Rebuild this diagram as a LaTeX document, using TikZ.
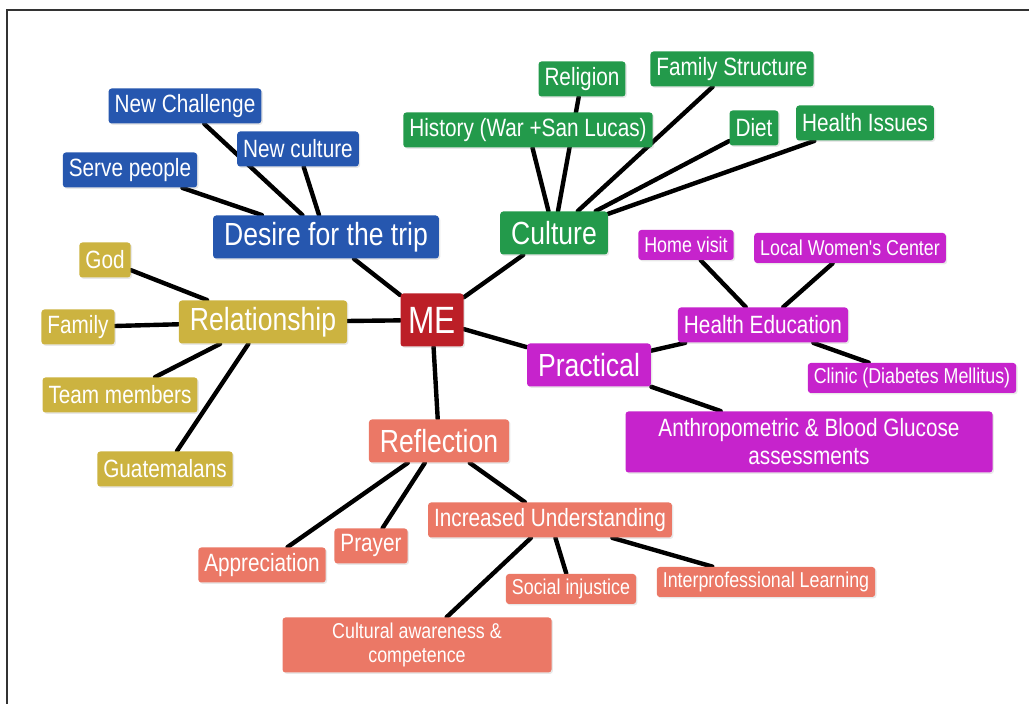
\documentclass[tikz,border=0pt]{standalone}
\usepackage{fontspec}
\newfontfamily\mapfont[FakeStretch=0.83]{Liberation Sans}
\usepackage{tikz}
\usetikzlibrary{backgrounds,shadows}
\usepackage{xcolor}
\definecolor{cblue}{HTML}{2657AF}
\definecolor{cgreen}{HTML}{239A4B}
\definecolor{cgold}{HTML}{CCB340}
\definecolor{cred}{HTML}{BC1F27}
\definecolor{cpurple}{HTML}{C623CC}
\definecolor{csalmon}{HTML}{EB7866}
\tikzset{
  box/.style={rectangle,rounded corners=1.5pt,text=white,inner sep=0pt,inner xsep=3pt,align=center,
    drop shadow={opacity=0.18,shadow xshift=0.7pt,shadow yshift=-0.7pt}},
  leafbox/.style={box,minimum height=17.5pt,font=\mapfont\fontsize{12.5}{14}\selectfont},
  subbox/.style={box,minimum height=15pt,font=\mapfont\fontsize{10.75}{12}\selectfont},
  mainbox/.style={box,minimum height=21.5pt,inner xsep=5.5pt,font=\mapfont\fontsize{16}{18}\selectfont},
  mebox/.style={box,minimum height=26.5pt,minimum width=31.5pt,font=\mapfont\fontsize{19}{21}\selectfont},
  link/.style={line width=2.2pt,black,line cap=round},
}
\begin{document}
\begin{tikzpicture}[x=0.5pt,y=-0.5pt]
  \useasboundingbox (0,0) rectangle (1029,704);
  \node[mebox,fill=cred] (me) at (432,320) {ME};
  \node[mainbox,fill=cblue] (desire) at (326,237) {Desire for the trip};
  \node[leafbox,fill=cblue] (newchal) at (185,106) {New Challenge};
  \node[leafbox,fill=cblue] (newcult) at (298,149) {New culture};
  \node[leafbox,fill=cblue] (serve) at (130,170) {Serve people};
  \node[mainbox,fill=cgold] (rel) at (263,322) {Relationship};
  \node[leafbox,fill=cgold] (god) at (105,260) {God};
  \node[leafbox,fill=cgold] (family) at (78,327) {Family};
  \node[leafbox,fill=cgold] (team) at (120,395) {Team members};
  \node[leafbox,fill=cgold] (guat) at (165,469) {Guatemalans};
  \node[mainbox,fill=cgreen] (culture) at (554,233) {Culture};
  \node[leafbox,fill=cgreen] (religion) at (582,79) {Religion};
  \node[leafbox,fill=cgreen] (famstr) at (732,69) {Family Structure};
  \node[leafbox,fill=cgreen] (history) at (528,130) {History (War +San Lucas)};
  \node[leafbox,fill=cgreen] (diet) at (754,128) {Diet};
  \node[leafbox,fill=cgreen] (healthiss) at (865,123) {Health Issues};
  \node[mainbox,fill=cpurple] (practical) at (589,365) {Practical};
  \node[leafbox,fill=cpurple] (healthed) at (763,325) {Health Education};
  \node[subbox,fill=cpurple] (homevisit) at (686,245) {Home visit};
  \node[subbox,fill=cpurple] (womenctr) at (850,248) {Local Women's Center};
  \node[subbox,fill=cpurple] (clinic) at (912,378) {Clinic (Diabetes Mellitus)};
  \node[leafbox,fill=cpurple,minimum width=183.5pt,minimum height=30.5pt] (anthro) at (809,442)
    {Anthropometric \& Blood Glucose\\assessments};
  \node[mainbox,fill=csalmon] (reflect) at (439,441) {Reflection};
  \node[leafbox,fill=csalmon] (incund) at (550,520) {Increased Understanding};
  \node[leafbox,fill=csalmon] (apprec) at (262,565) {Appreciation};
  \node[leafbox,fill=csalmon] (prayer) at (371,546) {Prayer};
  \node[subbox,fill=csalmon] (social) at (571,589) {Social injustice};
  \node[subbox,fill=csalmon] (interprof) at (766,582) {Interprofessional Learning};
  \node[subbox,fill=csalmon,minimum width=134.5pt,minimum height=27.5pt] (cultaware) at (417,645)
    {Cultural awareness \&\\competence};
  \begin{scope}[on background layer]
    \fill[white] (0,0) rectangle (1029,704);
    \draw[line width=1pt,black!80] (7,704) -- (7,10) -- (1029,10);
    \draw[link] (me) -- (desire) (me) -- (rel) (me) -- (culture) (me) -- (practical) (me) -- (reflect);
    \draw[link] (desire) -- (newchal) (desire) -- (newcult) (desire) -- (serve);
    \draw[link] (rel) -- (god) (rel) -- (family) (rel) -- (team) (rel) -- (guat);
    \draw[link] (culture) -- (religion) (culture) -- (famstr) (culture) -- (history)
      (culture) -- (diet) (culture) -- (healthiss);
    \draw[link] (practical) -- (healthed) (practical) -- (anthro);
    \draw[link] (healthed) -- (homevisit) (healthed) -- (womenctr) (healthed) -- (clinic);
    \draw[link] (reflect) -- (apprec) (reflect) -- (prayer) (reflect) -- (incund);
    \draw[link] (incund) -- (cultaware) (incund) -- (social) (incund) -- (interprof);
  \end{scope}
\end{tikzpicture}
\end{document}
